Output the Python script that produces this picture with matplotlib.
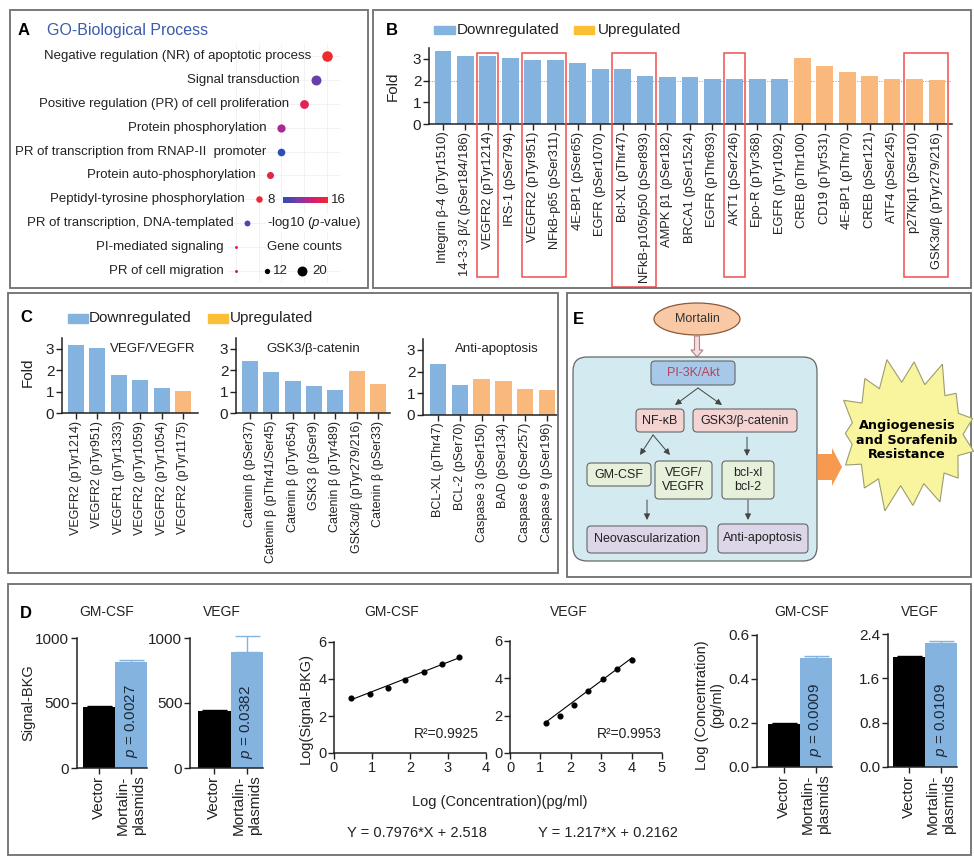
import numpy as np
import matplotlib
matplotlib.use('Agg')
import matplotlib.pyplot as plt
import matplotlib.patches as mpatches
import matplotlib.transforms as mtransforms
from matplotlib.colors import LinearSegmentedColormap

plt.rcParams['font.family'] = ['Liberation Sans', 'DejaVu Sans']
plt.rcParams['mathtext.fontset'] = 'custom'
plt.rcParams['mathtext.rm'] = 'Liberation Sans'
plt.rcParams['mathtext.it'] = 'Liberation Sans:italic'
plt.rcParams['mathtext.bf'] = 'Liberation Sans:bold'

# ------------------------------------------------------------------ data
# Panel A: GO biological process
go_terms = ["Negative regulation (NR) of apoptotic process", "Signal transduction",
            "Positive regulation (PR) of cell proliferation", "Protein phosphorylation",
            "PR of transcription from RNAP-II  promoter", "Protein auto-phosphorylation",
            "Peptidyl-tyrosine phosphorylation", "PR of transcription, DNA-templated",
            "PI-mediated signaling", "PR of cell migration"]
go_x = [22, 21, 20, 18, 18, 17, 16, 15, 14, 14]
go_counts = [21, 20, 18, 17, 16, 15, 14, 13, 8, 8]
go_logp = [16, 10, 14.5, 12, 8, 15, 15.5, 9, 14, 12.5]

# Panel B
b_labels = ["Integrin β-4 (pTyr1510)", "14-3-3 β/ζ (pSer184/186)", "VEGFR2 (pTyr1214)",
            "IRS-1 (pSer794)", "VEGFR2 (pTyr951)", "NFkB-p65 (pSer311)", "4E-BP1 (pSer65)",
            "EGFR (pSer1070)", "Bcl-XL (pThr47)", "NFkB-p105/p50 (pSer893)", "AMPK β1 (pSer182)",
            "BRCA1 (pSer1524)", "EGFR (pThr693)", "AKT1 (pSer246)", "Epo-R (pTyr368)",
            "EGFR (pTyr1092)", "CREB (pThr100)", "CD19 (pTyr531)", "4E-BP1 (pThr70)",
            "CREB (pSer121)", "ATF4 (pSer245)", "p27Kip1 (pSer10)", "GSK3α/β (pTyr279/216)"]
b_fold = [3.34, 3.15, 3.14, 3.02, 2.96, 2.96, 2.83, 2.51, 2.51, 2.22, 2.17,
          2.18, 2.09, 2.09, 2.09, 2.05, 3.03, 2.65, 2.38, 2.23, 2.05, 2.05, 2.02]
b_reg = ['D'] * 16 + ['U'] * 7
b_boxes = [(2, 2, 277), (4, 5, 277), (8, 9, 287), (13, 13, 277), (21, 22, 277)]

# Panel C
c1_labels = ["VEGFR2 (pTyr1214)", "VEGFR2 (pTyr951)", "VEGFR1 (pTyr1333)", "VEGFR2 (pTyr1059)",
             "VEGFR2 (pTyr1054)", "VEGFR2 (pTyr1175)"]
c1_fold = [3.16, 3.03, 1.76, 1.56, 1.18, 1.04]
c1_reg = ['D', 'D', 'D', 'D', 'D', 'U']
c2_labels = ["Catenin β (pSer37)", "Catenin β (pThr41/Ser45)", "Catenin β (pTyr654)",
             "GSK3 β (pSer9)", "Catenin β (pTyr489)", "GSK3α/β (pTyr279/216)", "Catenin β (pSer33)"]
c2_fold = [2.41, 1.90, 1.48, 1.24, 1.09, 1.98, 1.35]
c2_reg = ['D', 'D', 'D', 'D', 'D', 'U', 'U']
c3_labels = ["BCL-XL (pThr47)", "BCL-2 (pSer70)", "Caspase 3 (pSer150)", "BAD (pSer134)",
             "Caspase 6 (pSer257)", "Caspase 9 (pSer196)"]
c3_fold = [2.34, 1.36, 1.64, 1.55, 1.22, 1.16]
c3_reg = ['D', 'D', 'U', 'U', 'U', 'U']

# Panel D
d_groups = ["Vector", "Mortalin-\nplasmids"]
d_gm_signal = [470, 815]
d_gm_signal_err = [8, 18]
d_vegf_signal = [438, 890]
d_vegf_signal_err = [12, 128]
d_gm_conc = [0.195, 0.494]
d_gm_conc_err = [0.005, 0.010]
d_vegf_conc = [1.98, 2.23]
d_vegf_conc_err = [0.02, 0.04]
d_p = ["0.0027", "0.0382", "0.0009", "0.0109"]
gm_std_x = [0.45, 0.95, 1.42, 1.88, 2.37, 2.85, 3.30]
gm_std_y = [2.96, 3.17, 3.52, 3.96, 4.39, 4.80, 5.18]
vegf_std_x = [1.17, 1.63, 2.10, 2.57, 3.05, 3.52, 4.01]
vegf_std_y = [1.60, 1.99, 2.56, 3.33, 3.97, 4.49, 4.99]
gm_fit = (0.7976, 2.518, 0.9925)
vegf_fit = (1.217, 0.2162, 0.9953)

# ------------------------------------------------------------------ figure
W, H = 974, 857
fig = plt.figure(figsize=(W / 100, H / 100), dpi=100)
ov = fig.add_axes([0, 0, 1, 1])
ov.set_xlim(0, W)
ov.set_ylim(H, 0)
ov.axis('off')
ov.set_facecolor('none')
ov.set_zorder(5)

DOWN = '#84b3e0'
UP = '#f9b97d'
DARK = '#222222'


def axpx(x0, y0, x1, y1):
    a = fig.add_axes([x0 / W, 1 - y1 / H, (x1 - x0) / W, (y1 - y0) / H])
    a.set_facecolor('none')
    return a


def style_axis(ax, fs=11):
    for s in ['top', 'right']:
        ax.spines[s].set_visible(False)
    for s in ['left', 'bottom']:
        ax.spines[s].set_color(DARK)
        ax.spines[s].set_linewidth(1.1)
    ax.tick_params(direction='out', length=4, width=1.0, color=DARK,
                   labelcolor=DARK, labelsize=fs, pad=1.5)


# panel frames
for (x0, y0, x1, y1) in [(10, 10, 368, 288), (373, 10, 971, 288), (8, 293, 558, 573),
                         (567, 293, 971, 577), (8, 584, 971, 855)]:
    ov.add_patch(mpatches.Rectangle((x0, y0), x1 - x0, y1 - y0, fill=False,
                                    ec='#6e6e6e', lw=1.3))

# ------------------------------------------------------------------ Panel A
ov.text(18, 30, "A", fontsize=12, fontweight='bold', va='center', ha='left')
ov.text(47, 30, "GO-Biological Process", fontsize=11.5, color='#3a5cab', va='center')

cmap = LinearSegmentedColormap.from_list('go', ['#2c4fb6', '#7b3aa6', '#d81b7a', '#f02a2a'])
norm = plt.Normalize(8, 16)


def dot_r(c):
    return 1.5 + (c - 8) * 0.29


ax_a = axpx(228, 44, 340, 283)
ax_a.set_xlim(13.3, 23.14)
ax_a.set_ylim(9.5, -0.5)
ax_a.set_xticks(np.arange(14, 24, 2))
ax_a.set_yticks(np.arange(len(go_terms)))
ax_a.grid(True, color='#f0f0f0', lw=0.6)
ax_a.set_axisbelow(True)
ax_a.tick_params(length=0, labelbottom=False, labelleft=False)
for s in ax_a.spines.values():
    s.set_visible(False)
for i, (t, x, c, p) in enumerate(zip(go_terms, go_x, go_counts, go_logp)):
    r = dot_r(c)
    ax_a.plot(x, i, 'o', ms=2 * r * 0.72, color=cmap(norm(p)), mec='none', clip_on=False)
    ax_a.annotate(t, xy=(x, i), xytext=(-(r + 11) * 0.72, 0), textcoords='offset points',
                  ha='right', va='center', fontsize=9.5, color=DARK, annotation_clip=False)

cax = axpx(283, 197, 328, 203)
cax.imshow(np.linspace(0, 1, 200)[None, :], aspect='auto', cmap=cmap)
cax.axis('off')
cax.set_zorder(6)
ov.text(275, 200, "8", fontsize=9.5, ha='right', va='center', color=DARK)
ov.text(331, 200, "16", fontsize=9.5, ha='left', va='center', color=DARK)
ov.text(267, 223, "-log10 ($p$-value)", fontsize=9.5, ha='left', va='center', color=DARK,
        bbox=dict(fc='white', ec='none', pad=0.5))
ov.text(267, 247, "Gene counts", fontsize=9.5, ha='left', va='center', color=DARK,
        bbox=dict(fc='white', ec='none', pad=0.5))
for c, xd, xt in [(12, 267, 273), (20, 302, 312)]:
    r = dot_r(c)
    ov.plot(xd, 271, 'o', ms=2 * r * 0.72, color='black', mec='none')
    ov.text(xt, 271, str(c), fontsize=9.5, ha='left', va='center', color=DARK)

# ------------------------------------------------------------------ Panel B
ov.text(386, 30, "B", fontsize=12, fontweight='bold', va='center')
ov.add_patch(mpatches.Rectangle((434, 26), 21, 8, color=DOWN))
ov.text(457, 30, "Downregulated", fontsize=11, va='center', color=DARK)
ov.add_patch(mpatches.Rectangle((574, 26), 20, 8, color='#fbbf36'))
ov.text(598, 30, "Upregulated", fontsize=11, va='center', color=DARK)

ax_b = axpx(429, 48, 952, 124)
xb = np.arange(len(b_labels))
ax_b.bar(xb, b_fold, width=0.75, color=[DOWN if r == 'D' else UP for r in b_reg], zorder=2)
ax_b.axhline(2, ls=(0, (1, 1.5)), color='#9a9a9a', lw=0.7, zorder=1)
ax_b.set_xlim(-0.62, 22.67)
ax_b.set_ylim(0, 3.5)
ax_b.set_yticks([0, 1, 2, 3])
ax_b.set_xticks(xb)
ax_b.set_xticklabels(b_labels, rotation=90)
style_axis(ax_b)
ax_b.tick_params(axis='x', labelsize=9.3)
ax_b.set_ylabel("Fold", fontsize=11, color=DARK)
ax_b.yaxis.set_label_coords((400 - 429) / 523, 0.5)
trans_b = mtransforms.blended_transform_factory(ax_b.transData, ov.transData)
for i0, i1, ybot in b_boxes:
    fig.add_artist(mpatches.Rectangle((i0 - 0.47, 53), (i1 - i0) + 0.94, ybot - 53,
                                      transform=trans_b, fill=False, ec='#ef5050',
                                      lw=1.1, clip_on=False))

# ------------------------------------------------------------------ Panel C
ov.text(20, 318, "C", fontsize=12, fontweight='bold', va='center')
ov.add_patch(mpatches.Rectangle((68, 314), 20, 9, color=DOWN))
ov.text(89, 318, "Downregulated", fontsize=11, va='center', color=DARK)
ov.add_patch(mpatches.Rectangle((208, 314), 20, 9, color='#fbbf36'))
ov.text(230, 318, "Upregulated", fontsize=11, va='center', color=DARK)

c_specs = [
    (c1_labels, c1_fold, c1_reg, (62, 338, 198, 413), (-0.65, 5.7), "VEGF/VEGFR", 195, 'right'),
    (c2_labels, c2_fold, c2_reg, (236, 338, 390, 413), (-0.65, 6.56), "GSK3/β-catenin", 313, 'center'),
    (c3_labels, c3_fold, c3_reg, (423, 339, 557, 415), (-0.69, 5.46), "Anti-apoptosis", 497, 'center'),
]
for k, (labs, vals, regs, box, xl, title, tx, tha) in enumerate(c_specs):
    ax = axpx(*box)
    xs = np.arange(len(labs))
    ax.bar(xs, vals, width=0.75, color=[DOWN if r == 'D' else UP for r in regs])
    ax.set_xlim(*xl)
    ax.set_ylim(0, 3.5)
    ax.set_yticks([0, 1, 2, 3])
    ax.set_xticks(xs)
    ax.set_xticklabels(labs, rotation=90)
    style_axis(ax)
    ax.tick_params(axis='x', labelsize=9)
    ov.text(tx, 349, title, fontsize=9.5, ha=tha, va='center', color=DARK)
    if k == 0:
        ax.set_ylabel("Fold", fontsize=11, color=DARK)
        ax.yaxis.set_label_coords((35 - 62) / 136, 0.55)

# ------------------------------------------------------------------ Panel E
ov.text(573, 319, "E", fontsize=12, fontweight='bold', va='center')
ov.add_patch(mpatches.Ellipse((697, 319), 86, 32, fc='#f8c9a4', ec='#8a5a3a', lw=0.9))
ov.text(697, 319, "Mortalin", fontsize=9, ha='center', va='center', color='#333333')
ov.add_patch(mpatches.FancyArrow(697, 336, 0, 21, width=5, head_width=12, head_length=7,
                                 length_includes_head=True, fc='#f6dcdc', ec='#b08585', lw=0.8))
ov.add_patch(mpatches.FancyBboxPatch((573, 357), 244, 204,
                                     boxstyle="round,pad=0,rounding_size=14",
                                     fc='#d2eaf0', ec='#666666', lw=0.9))


def ebox(x0, y0, x1, y1, fc, text, color='#222222'):
    ov.add_patch(mpatches.FancyBboxPatch((x0, y0), x1 - x0, y1 - y0,
                                         boxstyle="round,pad=0,rounding_size=4",
                                         fc=fc, ec='#666666', lw=0.8))
    ov.text((x0 + x1) / 2, (y0 + y1) / 2, text, fontsize=9, ha='center', va='center',
            color=color, linespacing=1.15)


ebox(651, 361, 735, 385, '#a8c8ea', "PI-3K/Akt", color='#b0455e')
ebox(636, 409, 684, 432, '#f4d3d3', "NF-κB")
ebox(693, 409, 797, 432, '#f4d3d3', "GSK3/β-catenin")
ebox(587, 463, 651, 486, '#e6f0da', "GM-CSF")
ebox(655, 461, 712, 499, '#e6f0da', "VEGF/\nVEGFR")
ebox(722, 461, 774, 499, '#e6f0da', "bcl-xl\nbcl-2")
ebox(587, 526, 707, 553, '#ddd5e8', "Neovascularization")
ebox(718, 524, 808, 553, '#ddd5e8', "Anti-apoptosis")
for (xa, ya, xb_, yb_) in [(698, 388, 675, 405), (698, 388, 722, 405), (653, 435, 640, 455),
                           (653, 435, 670, 455), (747, 437, 747, 456), (647, 500, 647, 520),
                           (748, 500, 748, 520)]:
    ov.annotate('', xy=(xb_, yb_), xytext=(xa, ya),
                arrowprops=dict(arrowstyle='-|>', color='#444444', lw=0.7,
                                mutation_scale=9, shrinkA=0, shrinkB=0))
ov.add_patch(mpatches.FancyArrow(818, 467, 24, 0, width=26, head_width=38, head_length=10,
                                 length_includes_head=True, fc='#f79a4f', ec='none'))
# starburst
n_sp = 15
cx, cy = 907, 434
fac = [1.0, 0.9, 1.04, 0.93, 1.0, 0.95, 1.04, 0.92, 1.0, 0.94, 1.04, 0.92, 1.0, 0.95, 1.02]
pts = []
for k in range(n_sp):
    th = 2 * np.pi * k / n_sp + 0.2
    pts.append((cx + 67 * fac[k] * np.cos(th), cy - 78 * fac[k] * np.sin(th)))
    th2 = th + np.pi / n_sp
    pts.append((cx + 56 * np.cos(th2), cy - 52 * np.sin(th2)))
ov.add_patch(mpatches.Polygon(pts, closed=True, fc='#f8f59e', ec='#9c9c70', lw=0.8))
ov.text(cx, 440, "Angiogenesis\nand Sorafenib\nResistance", fontsize=9.2, fontweight='bold',
        family='DejaVu Sans', ha='center', va='center', linespacing=1.12, color='black')

# ------------------------------------------------------------------ Panel D
ov.text(20, 613, "D", fontsize=12, fontweight='bold', va='center')


def dbar(box, vals, errs, ylim, yticks, yfmt, xl, ptxt, py, title, tx):
    ax = axpx(*box)
    cols = ['black', DOWN]
    for i in range(2):
        ax.bar(i, vals[i], width=1.0, color=cols[i])
        ax.errorbar(i, vals[i], yerr=[[0], [errs[i]]], fmt='none', ecolor=cols[i],
                    elinewidth=1.0, capsize=9, capthick=1.0, clip_on=False)
    ax.set_xlim(*xl)
    ax.set_ylim(*ylim)
    ax.set_yticks(yticks)
    ax.set_yticklabels([yfmt.format(v) for v in yticks])
    ax.set_xticks([0, 1])
    ax.set_xticklabels(d_groups, rotation=90, multialignment='right')
    style_axis(ax, fs=11)
    ax.text(1, py, "$p$ = " + ptxt, rotation=90, ha='center', va='center',
            fontsize=11, color='#1a2a3a')
    ov.text(tx, 612, title, fontsize=10, ha='center', va='center', color=DARK)
    return ax


d1 = dbar((77, 638, 147, 768), d_gm_signal, d_gm_signal_err, (0, 1000), [0, 500, 1000], "{:d}",
          (-0.69, 1.5), d_p[0], 360, "GM-CSF", 107)
d1.set_ylabel("Signal-BKG", fontsize=10.5, color=DARK)
d1.yaxis.set_label_coords((35 - 77) / 70, 0.5)
dbar((190, 638, 263, 768), d_vegf_signal, d_vegf_signal_err, (0, 1000), [0, 500, 1000], "{:d}",
     (-0.75, 1.5), d_p[1], 354, "VEGF", 222)
dbar((757, 635, 832, 767), d_gm_conc, d_gm_conc_err, (0, 0.6), [0, 0.2, 0.4, 0.6], "{:.1f}",
     (-0.84, 1.5), d_p[2], 0.214, "GM-CSF", 802)
ov.text(710, 705, "Log (Concentration)\n(pg/ml)", fontsize=10.5, color=DARK, rotation=90,
        ha='center', va='center', linespacing=1.1, multialignment='center')
dbar((888, 634, 957, 767), d_vegf_conc, d_vegf_conc_err, (0, 2.4), [0, 0.8, 1.6, 2.4], "{:.1f}",
     (-0.66, 1.5), d_p[3], 0.85, "VEGF", 920)


def dscat(box, xs, ys, fit, xl, title, tx, rx):
    ax = axpx(*box)
    ax.plot(xs, ys, 'o', color='black', ms=3.4, clip_on=False)
    xx = np.array([xs[0], xs[-1]])
    ax.plot(xx, fit[0] * xx + fit[1], color='black', lw=0.8)
    ax.set_xlim(*xl)
    ax.set_ylim(0, 6)
    ax.set_xticks(np.arange(xl[0], xl[1] + 1))
    ax.set_yticks([0, 2, 4, 6])
    style_axis(ax, fs=10.5)
    ov.text(tx, 612, title, fontsize=10, ha='center', va='center', color=DARK)
    ov.text(rx, 734, "R²=%.4f" % fit[2], fontsize=10, ha='right', va='center', color=DARK)
    return ax


d3 = dscat((334, 642, 486, 753), gm_std_x, gm_std_y, gm_fit, (0, 4), "GM-CSF", 392, 479)
d3.set_ylabel("Log(Signal-BKG)", fontsize=10.5, color=DARK)
d3.yaxis.set_label_coords((313 - 334) / 152, 0.4)
dscat((510, 641, 662, 753), vegf_std_x, vegf_std_y, vegf_fit, (0, 5), "VEGF", 569, 662)
ov.text(500, 802, "Log (Concentration)(pg/ml)", fontsize=10.5, ha='center', va='center', color=DARK)
ov.text(417, 833, "Y = %.4f*X + %.3f" % (gm_fit[0], gm_fit[1]), fontsize=10.5, ha='center',
        va='center', color=DARK)
ov.text(608, 833, "Y = %.3f*X + %.4f" % (vegf_fit[0], vegf_fit[1]), fontsize=10.5, ha='center',
        va='center', color=DARK)

fig.savefig("out.png", dpi=100)
